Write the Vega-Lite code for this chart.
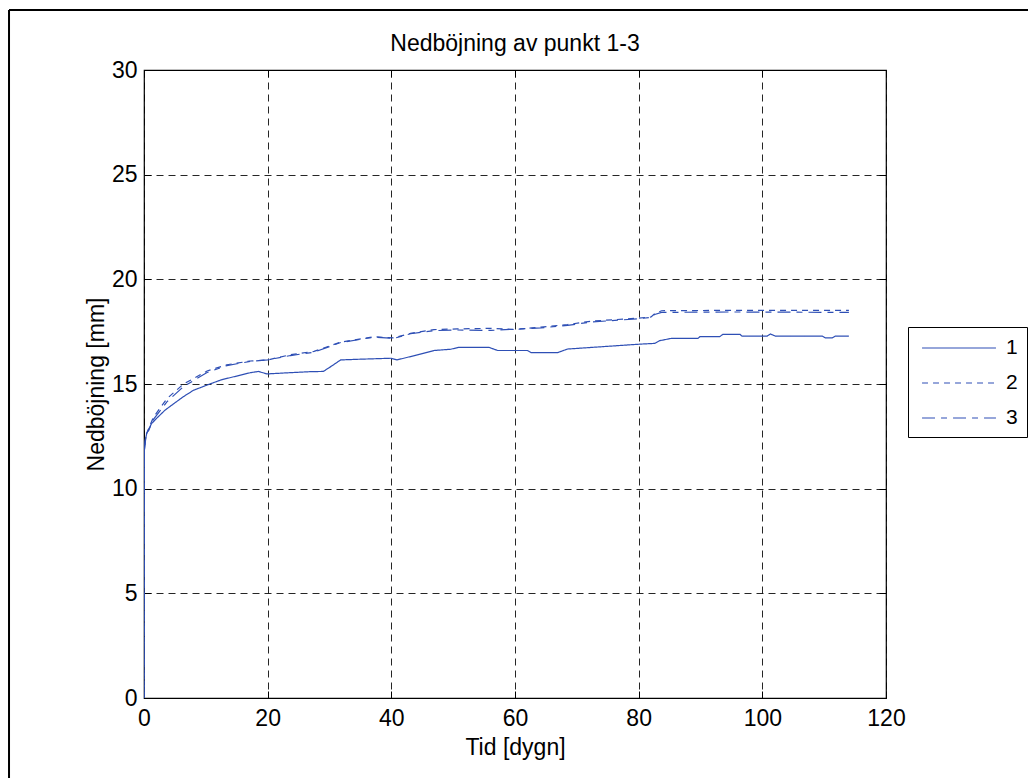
{
  "$schema": "https://vega.github.io/schema/vega-lite/v6.json",
  "width": 742,
  "height": 628,
  "autosize": "none",
  "padding": {"left": 144, "top": 70, "right": 142, "bottom": 80},
  "background": "white",
  "config": {
    "font": "Liberation Sans",
    "view": {"stroke": "black", "strokeWidth": 1.2},
    "axis": {"labelFont": "Liberation Sans", "titleFont": "Liberation Sans", "labelFontSize": 23, "titleFontSize": 23, "titleFontWeight": "normal", "labelColor": "black", "titleColor": "black"}
  },
  "title": {"text": "Nedböjning av punkt 1-3", "fontSize": 23, "fontWeight": "normal", "font": "Liberation Sans", "color": "black", "anchor": "middle", "frame": "group", "offset": -47},
  "datasets": {
    "curves": [
      {"series": "1", "t": 0, "v": 0},
      {"series": "1", "t": 0.05, "v": 11.8},
      {"series": "1", "t": 0.2, "v": 12.3},
      {"series": "1", "t": 0.45, "v": 12.65},
      {"series": "1", "t": 1.2, "v": 13.1},
      {"series": "1", "t": 2, "v": 13.35},
      {"series": "1", "t": 3.4, "v": 13.75},
      {"series": "1", "t": 5, "v": 14.1},
      {"series": "1", "t": 6.4, "v": 14.4},
      {"series": "1", "t": 8, "v": 14.7},
      {"series": "1", "t": 10.2, "v": 14.95},
      {"series": "1", "t": 12.5, "v": 15.2},
      {"series": "1", "t": 15, "v": 15.38},
      {"series": "1", "t": 17.2, "v": 15.54},
      {"series": "1", "t": 18.5, "v": 15.6},
      {"series": "1", "t": 19.9, "v": 15.48},
      {"series": "1", "t": 21, "v": 15.5},
      {"series": "1", "t": 26.9, "v": 15.59},
      {"series": "1", "t": 29, "v": 15.6},
      {"series": "1", "t": 30.2, "v": 15.83},
      {"series": "1", "t": 31.8, "v": 16.15},
      {"series": "1", "t": 34.5, "v": 16.18},
      {"series": "1", "t": 39.9, "v": 16.23},
      {"series": "1", "t": 40.9, "v": 16.15},
      {"series": "1", "t": 44.2, "v": 16.39},
      {"series": "1", "t": 46.9, "v": 16.6},
      {"series": "1", "t": 49.6, "v": 16.66},
      {"series": "1", "t": 50.9, "v": 16.75},
      {"series": "1", "t": 55.8, "v": 16.75},
      {"series": "1", "t": 57.2, "v": 16.6},
      {"series": "1", "t": 62.0, "v": 16.6},
      {"series": "1", "t": 62.6, "v": 16.5},
      {"series": "1", "t": 66.9, "v": 16.5},
      {"series": "1", "t": 68.5, "v": 16.67},
      {"series": "1", "t": 80, "v": 16.9},
      {"series": "1", "t": 82.6, "v": 16.94},
      {"series": "1", "t": 83.4, "v": 17.07},
      {"series": "1", "t": 85.3, "v": 17.18},
      {"series": "1", "t": 89.6, "v": 17.18},
      {"series": "1", "t": 89.9, "v": 17.26},
      {"series": "1", "t": 93.1, "v": 17.26},
      {"series": "1", "t": 93.6, "v": 17.37},
      {"series": "1", "t": 96.4, "v": 17.37},
      {"series": "1", "t": 96.7, "v": 17.29},
      {"series": "1", "t": 100.8, "v": 17.29},
      {"series": "1", "t": 101.3, "v": 17.39},
      {"series": "1", "t": 102.1, "v": 17.29},
      {"series": "1", "t": 109.7, "v": 17.29},
      {"series": "1", "t": 110.2, "v": 17.2},
      {"series": "1", "t": 111.3, "v": 17.2},
      {"series": "1", "t": 111.8, "v": 17.29},
      {"series": "1", "t": 114, "v": 17.29},
      {"series": "2", "t": 0, "v": 0},
      {"series": "2", "t": 0.05, "v": 11.85},
      {"series": "2", "t": 0.3, "v": 12.55},
      {"series": "2", "t": 1.5, "v": 13.4},
      {"series": "2", "t": 3.7, "v": 14.3},
      {"series": "2", "t": 6.4, "v": 15.0},
      {"series": "2", "t": 10.2, "v": 15.62},
      {"series": "2", "t": 13.4, "v": 15.92},
      {"series": "2", "t": 17.2, "v": 16.1},
      {"series": "2", "t": 20, "v": 16.15},
      {"series": "2", "t": 23.7, "v": 16.4},
      {"series": "2", "t": 27.5, "v": 16.56},
      {"series": "2", "t": 31.8, "v": 17.0},
      {"series": "2", "t": 37.2, "v": 17.26},
      {"series": "2", "t": 40.4, "v": 17.2},
      {"series": "2", "t": 43.1, "v": 17.42},
      {"series": "2", "t": 46.9, "v": 17.6},
      {"series": "2", "t": 50.7, "v": 17.63},
      {"series": "2", "t": 56.1, "v": 17.66},
      {"series": "2", "t": 60, "v": 17.6},
      {"series": "2", "t": 64.2, "v": 17.72},
      {"series": "2", "t": 68.5, "v": 17.84},
      {"series": "2", "t": 72.3, "v": 18.0},
      {"series": "2", "t": 80, "v": 18.15},
      {"series": "2", "t": 82, "v": 18.2},
      {"series": "2", "t": 82.6, "v": 18.36},
      {"series": "2", "t": 83.7, "v": 18.5},
      {"series": "2", "t": 95, "v": 18.52},
      {"series": "2", "t": 114, "v": 18.52},
      {"series": "3", "t": 0, "v": 0},
      {"series": "3", "t": 0.05, "v": 11.8},
      {"series": "3", "t": 0.3, "v": 12.45},
      {"series": "3", "t": 1.5, "v": 13.3},
      {"series": "3", "t": 3.7, "v": 14.15},
      {"series": "3", "t": 6.4, "v": 14.88},
      {"series": "3", "t": 10.2, "v": 15.55},
      {"series": "3", "t": 13.4, "v": 15.88},
      {"series": "3", "t": 17.2, "v": 16.08},
      {"series": "3", "t": 20, "v": 16.15},
      {"series": "3", "t": 23.7, "v": 16.36},
      {"series": "3", "t": 27.5, "v": 16.52},
      {"series": "3", "t": 31.8, "v": 16.98},
      {"series": "3", "t": 37.2, "v": 17.24},
      {"series": "3", "t": 40.4, "v": 17.18},
      {"series": "3", "t": 43.1, "v": 17.4},
      {"series": "3", "t": 46.9, "v": 17.55},
      {"series": "3", "t": 50.7, "v": 17.58},
      {"series": "3", "t": 56.1, "v": 17.56},
      {"series": "3", "t": 60, "v": 17.62},
      {"series": "3", "t": 64.2, "v": 17.68},
      {"series": "3", "t": 68.5, "v": 17.8},
      {"series": "3", "t": 72.3, "v": 17.96},
      {"series": "3", "t": 80, "v": 18.12},
      {"series": "3", "t": 82, "v": 18.18},
      {"series": "3", "t": 82.6, "v": 18.32},
      {"series": "3", "t": 83.7, "v": 18.42},
      {"series": "3", "t": 95, "v": 18.44},
      {"series": "3", "t": 114, "v": 18.42}
    ]
  },
  "data": {"name": "curves"},
  "resolve": {"axis": {"x": "independent", "y": "independent"}},
  "layer": [
    {
      "mark": {"type": "line", "color": "#2e4fb5", "strokeWidth": 1.2, "clip": true},
      "encoding": {
        "x": {"field": "t", "type": "quantitative", "scale": {"domain": [0, 120], "nice": false},
          "axis": {"orient": "bottom", "title": "Tid [dygn]", "values": [0, 20, 40, 60, 80, 100, 120], "domain": false, "tickSize": -7, "tickColor": "black", "labelPadding": 16, "titlePadding": 6, "grid": true, "gridColor": "black", "gridDash": [7, 5], "gridOpacity": 0.85, "labelFlush": false}},
        "y": {"field": "v", "type": "quantitative", "scale": {"domain": [0, 30], "nice": false},
          "axis": {"orient": "left", "title": "Nedböjning [mm]", "values": [0, 5, 10, 15, 20, 25, 30], "domain": false, "tickSize": -7, "tickColor": "black", "labelPadding": 14, "titlePadding": 3, "grid": true, "gridColor": "black", "gridDash": [7, 5], "gridOpacity": 0.85, "labelFlush": false}},
        "strokeDash": {"field": "series", "type": "nominal",
          "scale": {"domain": ["1", "2", "3"], "range": [[1, 0], [6, 5], [13, 6, 6, 6]]},
          "legend": {"title": null, "orient": "none", "legendX": 764, "legendY": 257, "strokeColor": "black", "fillColor": "white", "padding": 9, "symbolType": "M-3.36,0H3.36", "symbolSize": 484, "symbolStrokeWidth": 1.2, "symbolStrokeColor": "#2e4fb5", "symbolFillColor": "transparent", "symbolOffset": 30, "labelOffset": 35, "rowPadding": 13, "labelFontSize": 21, "labelFont": "Liberation Sans", "labelColor": "black"}}
      }
    },
    {
      "mark": {"type": "line", "opacity": 0},
      "encoding": {
        "x": {"field": "t", "type": "quantitative", "axis": {"orient": "top", "title": null, "labels": false, "values": [0, 20, 40, 60, 80, 100, 120], "domain": false, "tickSize": -7, "tickColor": "black", "grid": false}},
        "y": {"field": "v", "type": "quantitative", "axis": {"orient": "right", "title": null, "labels": false, "values": [0, 5, 10, 15, 20, 25, 30], "domain": false, "tickSize": -7, "tickColor": "black", "grid": false}},
        "detail": {"field": "series"}
      }
    },
    {
      "data": {"values": [{}]},
      "mark": {"type": "rule", "color": "black", "strokeWidth": 2},
      "encoding": {
        "x": {"datum": -21.83, "type": "quantitative", "axis": null},
        "y": {"datum": 32.87, "type": "quantitative", "axis": null},
        "y2": {"datum": -4}
      }
    },
    {
      "data": {"values": [{}]},
      "mark": {"type": "rule", "color": "black", "strokeWidth": 2},
      "encoding": {
        "x": {"datum": -21.83, "type": "quantitative", "axis": null},
        "x2": {"datum": 143.5},
        "y": {"datum": 32.87, "type": "quantitative", "axis": null}
      }
    }
  ]
}
